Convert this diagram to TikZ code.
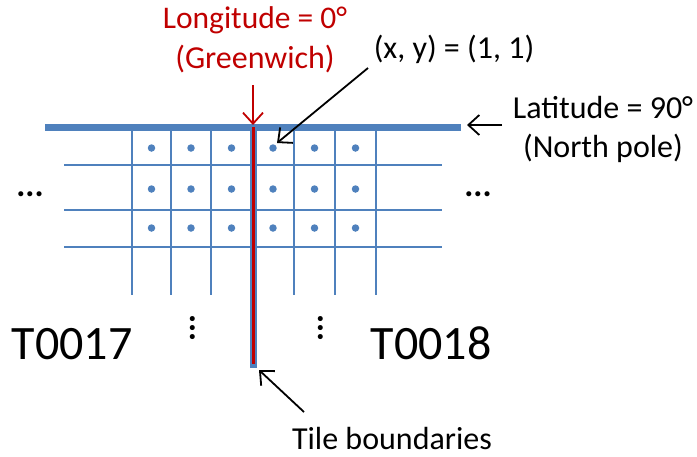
\documentclass[tikz,border=0pt]{standalone}
\usepackage{fontspec}
\setmainfont{Carlito}
\usetikzlibrary{arrows.meta}
\definecolor{gblue}{HTML}{4F81BD}
\definecolor{gred}{HTML}{C00000}
\begin{document}
\begin{tikzpicture}[x=1pt,y=-1pt,
  gridline/.style={gblue, line width=2pt},
  lbl/.style={font=\fontsize{32}{36}\selectfont, inner sep=0pt, anchor=base},
  dots/.style={font=\fontsize{34}{36}\selectfont\bfseries, inner sep=0pt, anchor=base},
  big/.style={font=\fontsize{48}{52}\selectfont, inner sep=0pt, anchor=base},
  gpt/.style={fill=gblue, circle, inner sep=0pt, minimum size=7.5pt},
  arr/.style={line width=1.8pt, -{Straight Barb[length=11pt,width=20pt,line width=1.8pt]}}]
\useasboundingbox (0,0) rectangle (697,456);
% horizontal grid lines
\foreach \y in {165,210,247} \draw[gridline] (64,\y) -- (442,\y);
% vertical grid lines
\foreach \x in {132,171,211,294,335,376} \draw[gridline] (\x,127) -- (\x,295);
% top bar
\draw[gblue, line width=7pt] (45,127) -- (461,127);
% boundary line
\coordinate (btop) at (253,127);
\coordinate (bbot) at (253,368);
\draw[gblue, line width=7pt] (btop) -- (bbot);
\draw[gred, line width=3pt] (btop) -- (253,364);
% dots
\foreach \x in {151.5,191,231.5,273,314.5,355.5}
  \foreach \y in {148,189,228}
    \node[gpt] at (\x,\y) {};
% labels
\node[lbl, text=gred, font=\fontsize{31.5}{36}\selectfont] (lon) at (255,28) {Longitude = 0°};
\node[lbl, text=gred] (gw) at (255,68) {(Greenwich)};
\node[lbl] (xy) at (454,58) {(x, y) = (1, 1)};
\node[lbl] (lat) at (603,118) {Latitude = 90°};
\node[lbl] (np) at (603,157) {(North pole)};
\node[dots] (dl) at (30,196) {...};
\node[dots] (dr) at (478,196) {...};
\node[dots, rotate=-90, anchor=center] (vl) at (193,328) {...};
\node[dots, rotate=-90, anchor=center] (vr) at (321,328) {...};
\node[big] (t17) at (72,359) {T0017};
\node[big] (t18) at (431,359) {T0018};
\node[lbl] (tb) at (392,449) {Tile boundaries};
% arrows
\coordinate (rs) at (253,85);
\coordinate (re) at (253,125);
\draw[arr, gred] (rs) -- (re);
\coordinate (xys) at (368,68);
\coordinate (xye) at (277,143);
\draw[arr] (xys) -- (xye);
\coordinate (lats) at (502,125);
\coordinate (late) at (467,125);
\draw[arr] (lats) -- (late);
\coordinate (tbs) at (304,412);
\coordinate (tbe) at (259,370);
\draw[arr] (tbs) -- (tbe);
\end{tikzpicture}
\end{document}
